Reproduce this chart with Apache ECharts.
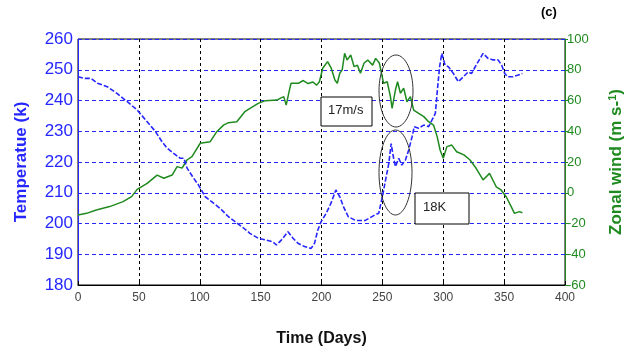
<!DOCTYPE html>
<html>
<head>
<meta charset="utf-8">
<script src="https://cdn.jsdelivr.net/npm/echarts@6/dist/echarts.min.js"></script>
<style>
  html, body { margin: 0; padding: 0; background: #fff; }
  #chart { width: 633px; height: 354px; }
</style>
</head>
<body>
<div id="chart"></div>
<script>
// temperature (K), left axis: [day, value]
const tempData = [
  [0, 247.7], [5, 247.2], [10.6, 247.2], [16, 245.6], [24, 244.5], [32, 242.3], [40.5, 239.6],
  [48.6, 236.9], [56.8, 233.1], [63.6, 229.9], [69, 226.6], [73.2, 224.5], [78.6, 222.8], [84, 221.2],
  [87, 221.2], [89.6, 218], [95, 214.7], [99, 212.5], [104.5, 208.7], [110, 207], [116.8, 204.9],
  [123.6, 202.2], [129, 200.6], [134.5, 199], [141.2, 196.8], [148, 195.2], [154.8, 194.6],
  [160.2, 194], [163, 193], [167, 194.6], [172.5, 197.3], [176.6, 195.2], [180.6, 193.6],
  [186, 192.5], [191.5, 191.9], [194.3, 193.6], [197, 197.9], [199.7, 200.6], [203.8, 203.3],
  [207.8, 206.6], [211.8, 210.9], [215, 208.7], [218, 205.5], [222, 202.2], [228, 201], [236, 201],
  [244, 202.8], [247, 203.3], [250, 208.7], [252.6, 214.1], [255.3, 219.6], [257.2, 226],
  [259, 221.7], [260.7, 218.5], [263.4, 221.2], [266, 219], [269, 220.7], [271.6, 223.9],
  [274.4, 228.2], [276.2, 231.5], [279.8, 231], [284, 232], [288, 231.5], [290.8, 233.7],
  [293.5, 235.8], [295.2, 243.4], [297, 251], [298.8, 255.3], [301.5, 251.5], [304.2, 251],
  [308.3, 248.8], [312.4, 246.1], [316.5, 247.7], [320.5, 249.3], [323.3, 248.8], [327, 251.5],
  [332.7, 255.3], [336.8, 253.7], [341, 253.2], [345, 253.2], [348, 251.5], [350.5, 248.8],
  [353, 247.7], [357, 247.7], [361, 248.2], [365, 248.8]
]

// zonal wind (m/s), right axis: [day, value]
const windData = [
  [0, -14.5], [7, -13.4], [15, -11.2], [26, -9], [37, -5.8], [44, -2.5], [48.6, 2.2], [56.8, 6.1],
  [65, 11.5], [70.5, 9.4], [77.3, 11.5], [81.4, 17], [85.5, 16], [89.5, 21.3], [93.6, 23.5],
  [100.4, 32.2], [108.6, 33.2], [114, 39.7], [119.5, 44], [123.6, 45.6], [130.4, 46.2], [137, 52.7],
  [148, 58.1], [154, 59.9], [163.5, 60.3], [166, 61.4], [169, 62.5], [171, 57], [174, 68],
  [175, 71.2], [181, 71.2], [185, 73], [189, 71], [193, 72], [196, 70], [198.3, 72.2], [201, 81],
  [205, 85.3], [208, 81], [211, 73.3], [213, 71.2], [215, 77.7], [217, 79.9], [219, 90.7],
  [221, 86.3], [224, 89.6], [226.8, 82], [229.5, 83], [232, 77.7], [235, 84.4], [238, 86.3],
  [242, 83], [244.5, 87.4], [247.5, 84.4], [249, 78.8], [251, 71.2], [254, 72.2], [256.6, 62.5],
  [258, 54.9], [260.7, 66.8], [262.5, 72.2], [264.8, 64.7], [267.5, 68], [270.2, 59.2], [273, 62.5],
  [275.7, 53.8], [279.8, 51.7], [284, 49.5], [288, 46.2], [292, 44], [295, 36.5], [297.4, 27.8],
  [300, 22.4], [303, 30], [307, 31], [311, 26.7], [317, 24.6], [322, 21.3], [327, 15.9],
  [332.7, 8.3], [338, 12.6], [343.5, 3.9], [347.5, 1.8], [351.7, -2.6], [355.8, -9], [358.5, -13.4],
  [362.5, -12.3], [365, -13]
]

const FONT = 'Liberation Sans, Arial, sans-serif'
const BLUE = '#2626ff'
const GREEN = '#1f8a1f'

const chart = echarts.init(document.getElementById('chart'))
chart.setOption({
  backgroundColor: '#fff',
  animation: false,
  grid: {
    left: 78,
    right: 64,
    top: 39,
    bottom: 69,
    show: true,
    borderColor: '#000',
    borderWidth: 1
  },
  xAxis: {
    type: 'value',
    min: 0,
    max: 400,
    interval: 50,
    name: 'Time (Days)',
    nameLocation: 'middle',
    nameGap: 46,
    nameTextStyle: { fontFamily: FONT, fontSize: 16, fontWeight: 'bold', color: '#111' },
    axisLine: { onZero: false, lineStyle: { color: '#000' } },
    axisTick: { inside: true, length: 4, lineStyle: { color: '#000' } },
    axisLabel: { fontFamily: FONT, fontSize: 12, color: '#444', margin: 7 },
    splitLine: { show: true, lineStyle: { color: '#000', type: [3, 3], width: 1 } }
  },
  yAxis: [
    {
      type: 'value',
      min: 180,
      max: 260,
      interval: 10,
      name: 'Temperatue (k)',
      nameLocation: 'middle',
      nameGap: 48,
      nameTextStyle: { fontFamily: FONT, fontSize: 17, fontWeight: 'bold', color: BLUE },
      axisLine: { show: true, onZero: false, lineStyle: { color: BLUE } },
      axisTick: { show: false },
      axisLabel: { fontFamily: FONT, fontSize: 17, color: BLUE, margin: 5 },
      splitLine: { show: true, lineStyle: { color: BLUE, type: [4, 3], width: 1 } }
    },
    {
      type: 'value',
      min: -60,
      max: 100,
      interval: 20,
      name: 'Zonal wind (m s-{sup|1})',
      nameLocation: 'middle',
      nameGap: 42,
      nameTextStyle: {
        fontFamily: FONT, fontSize: 17, fontWeight: 'bold', color: GREEN,
        rich: { sup: { fontFamily: FONT, fontSize: 11, fontWeight: 'bold', color: GREEN, verticalAlign: 'top', padding: [0, 0, 8, 0] } }
      },
      axisLine: { show: true, onZero: false, lineStyle: { color: GREEN } },
      axisTick: { show: true, inside: false, length: 3, lineStyle: { color: GREEN } },
      axisLabel: { fontFamily: FONT, fontSize: 13, color: GREEN, margin: 2 },
      splitLine: { show: false }
    }
  ],
  series: [
    {
      name: 'Temperature',
      type: 'line',
      yAxisIndex: 0,
      data: tempData,
      showSymbol: false,
      lineStyle: { color: BLUE, width: 1.6, type: [5, 2] },
      z: 3
    },
    {
      name: 'Zonal wind',
      type: 'line',
      yAxisIndex: 1,
      data: windData,
      showSymbol: false,
      lineStyle: { color: GREEN, width: 1.5 },
      z: 2
    }
  ],
  graphic: [
    { type: 'text', left: 541, top: 6, style: { text: '(c)', font: 'bold 13px ' + FONT, fill: '#000' } },
    { type: 'ellipse', shape: { cx: 396, cy: 91, rx: 17, ry: 36 }, style: { fill: 'none', stroke: '#333', lineWidth: 1 }, z: 10 },
    { type: 'ellipse', shape: { cx: 395.5, cy: 172.5, rx: 16.5, ry: 42.5 }, style: { fill: 'none', stroke: '#333', lineWidth: 1 }, z: 10 },
    { type: 'rect', shape: { x: 321, y: 97, width: 51, height: 29 }, style: { fill: '#fff', stroke: '#000', lineWidth: 1 }, z: 10 },
    { type: 'text', left: 328, top: 104, style: { text: '17m/s', font: '13px ' + FONT, fill: '#222' }, z: 11 },
    { type: 'rect', shape: { x: 415, y: 193, width: 54, height: 31 }, style: { fill: '#fff', stroke: '#000', lineWidth: 1 }, z: 10 },
    { type: 'text', left: 423, top: 201, style: { text: '18K', font: '13px ' + FONT, fill: '#222' }, z: 11 }
  ]
})
</script>
</body>
</html>
